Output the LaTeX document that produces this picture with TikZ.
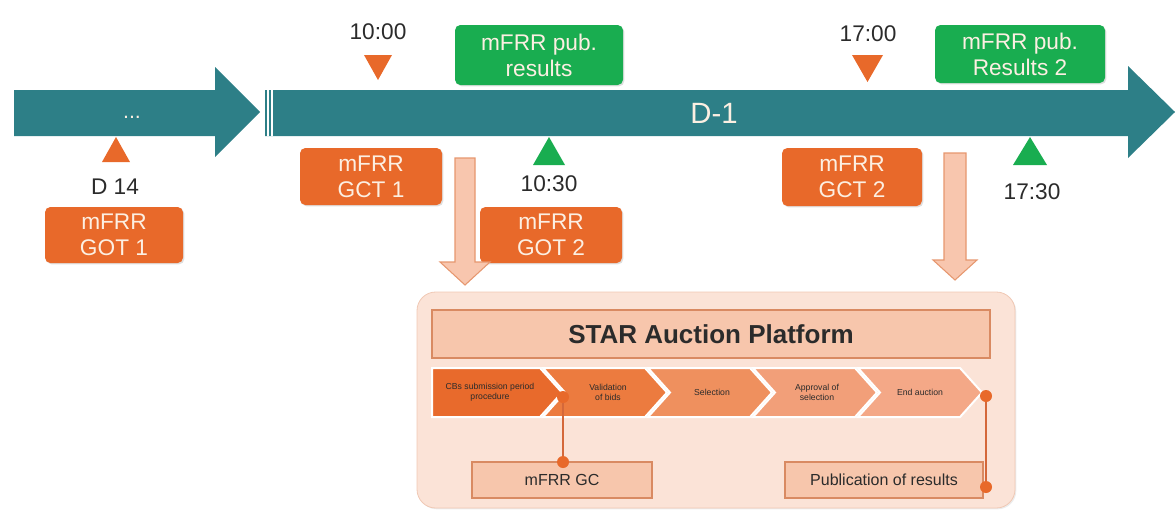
\documentclass[tikz,border=0pt]{standalone}
\usepackage{fontspec}
\setmainfont{Liberation Sans}
\usetikzlibrary{shadows}
\definecolor{tealA}{HTML}{2D7F87}
\definecolor{orangeA}{HTML}{E8692A}
\definecolor{greenA}{HTML}{19AD50}
\definecolor{boxtext}{HTML}{FCEFE2}
\definecolor{darkA}{HTML}{2B2B2B}
\definecolor{panelA}{HTML}{FBE3D7}
\definecolor{panelB}{HTML}{F0C8B4}
\definecolor{barA}{HTML}{F7C6AC}
\definecolor{barB}{HTML}{D98A62}
\definecolor{downA}{HTML}{F8C6AE}
\definecolor{downB}{HTML}{E6976F}
\definecolor{chA}{HTML}{E86A2C}
\definecolor{chB}{HTML}{EC7B3F}
\definecolor{chC}{HTML}{EF905E}
\definecolor{chD}{HTML}{F29F79}
\definecolor{chE}{HTML}{F4A887}
\definecolor{lineA}{HTML}{D4683A}
\newcommand\pxu{0.75pt}
\tikzset{
  tagbox/.style={rounded corners=4pt, text=boxtext, align=center,
    font=\fontsize{17}{19.5}\selectfont, inner sep=0pt,
    drop shadow={opacity=0.25, shadow xshift=1pt, shadow yshift=-1pt}},
  orangebox/.style={tagbox, fill=orangeA},
  greenbox/.style={tagbox, fill=greenA},
  timelabel/.style={text=darkA, font=\fontsize{17}{19}\selectfont, inner sep=0pt},
  lightbox/.style={fill=barA, draw=barB, line width=1pt, inner sep=0pt,
    drop shadow={opacity=0.2, shadow xshift=1pt, shadow yshift=-1pt}},
  chevtext/.style={text=darkA, font=\fontsize{6.5}{7.5}\selectfont, align=center, inner sep=0pt},
  chev/.style={draw=white, line width=1.5pt},
  dot/.style={circle, fill=orangeA, minimum size=9pt, inner sep=0pt},
  link/.style={draw=lineA, line width=1.5pt},
  downarrow/.style={fill=downA, draw=downB, line width=0.8pt}
}
\begin{document}
\begin{tikzpicture}[x=0.75pt,y=-0.75pt]
\useasboundingbox (0,0) rectangle (1176,511);
% timeline arrows
\fill[tealA] (14,90) -- (215,90) -- (215,67) -- (260,112) -- (215,157) -- (215,136) -- (14,136) -- cycle;
\fill[tealA] (265,90) -- (1128,90) -- (1128,66) -- (1175,112) -- (1128,158) -- (1128,136) -- (265,136) -- cycle;
\draw[white, line width=0.8pt] (268,90) -- (268,136) (272,90) -- (272,136);
\node[text=boxtext, font=\fontsize{16}{18}\selectfont] (dots) at (132,117) {...};
\node[text=boxtext, font=\fontsize{22}{24}\selectfont] (d1) at (714,113) {D-1};

% triangles
\fill[orangeA] (102,162) -- (130,162) -- (116,137) -- cycle;
\fill[orangeA] (364,55) -- (392,55) -- (378,80) -- cycle;
\fill[orangeA] (852,55) -- (883,55) -- (867.5,82) -- cycle;
\fill[greenA] (533,165) -- (565,165) -- (549,137) -- cycle;
\fill[greenA] (1013,165) -- (1047,165) -- (1030,137) -- cycle;

% time labels
\node[timelabel] (t14) at (115,187) {D 14};
\node[timelabel] (t1000) at (378,32) {10:00};
\node[timelabel] (t1030) at (549,184) {10:30};
\node[timelabel] (t1700) at (868,34) {17:00};
\node[timelabel] (t1730) at (1032,192) {17:30};

% boxes
\node[orangebox, minimum width=138*\pxu, minimum height=56*\pxu] (got1) at (114,235) {mFRR\\GOT 1};
\node[orangebox, minimum width=142*\pxu, minimum height=57*\pxu] (gct1) at (371,176.5) {mFRR\\GCT 1};
\node[orangebox, minimum width=142*\pxu, minimum height=56*\pxu] (got2) at (551,235) {mFRR\\GOT 2};
\node[orangebox, minimum width=140*\pxu, minimum height=58*\pxu] (gct2) at (852,177) {mFRR\\GCT 2};
\node[greenbox, minimum width=168*\pxu, minimum height=60*\pxu] (pub1) at (539,55) {mFRR pub.\\results};
\node[greenbox, minimum width=170*\pxu, minimum height=58*\pxu] (pub2) at (1020,54) {mFRR pub.\\Results 2};

% down arrows
\path[downarrow] (455,158) -- (475,158) -- (475,262) -- (490,262) -- (465,285) -- (440,262) -- (455,262) -- cycle;
\path[downarrow] (944,153) -- (966,153) -- (966,260) -- (977,260) -- (955,280) -- (933,260) -- (944,260) -- cycle;

% panel
\path[fill=panelA, draw=panelB, line width=0.6pt, rounded corners=14pt, drop shadow={opacity=0.15, shadow xshift=1pt, shadow yshift=-1pt}] (417,292) rectangle (1015,508);
\node[lightbox, minimum width=558*\pxu, minimum height=48*\pxu, font=\fontsize{19.5}{22}\selectfont\bfseries, text=darkA] (star) at (711,334) {STAR Auction Platform};

% chevrons
\path[chev, fill=chA] (432,368) -- (540,368) -- (562,392.5) -- (540,417) -- (432,417) -- cycle;
\path[chev, fill=chB] (543,368) -- (645,368) -- (667,392.5) -- (645,417) -- (543,417) -- (565,392.5) -- cycle;
\path[chev, fill=chC] (648,368) -- (750,368) -- (772,392.5) -- (750,417) -- (648,417) -- (670,392.5) -- cycle;
\path[chev, fill=chD] (753,368) -- (855,368) -- (877,392.5) -- (855,417) -- (753,417) -- (775,392.5) -- cycle;
\path[chev, fill=chE] (858,368) -- (960,368) -- (982,392.5) -- (960,417) -- (858,417) -- (880,392.5) -- cycle;
\node[chevtext] (c1) at (490,392) {CBs submission period\\procedure};
\node[chevtext] (c2) at (608,392) {Validation\\of bids};
\node[chevtext] (c3) at (712,392) {Selection};
\node[chevtext] (c4) at (817,392) {Approval of\\selection};
\node[chevtext] (c5) at (920,392) {End auction};

% lower boxes
\node[lightbox, minimum width=180*\pxu, minimum height=36*\pxu, font=\fontsize{12}{14}\selectfont, text=darkA] (gc) at (562,480) {mFRR GC};
\node[lightbox, minimum width=198*\pxu, minimum height=36*\pxu, font=\fontsize{12}{14}\selectfont, text=darkA] (pubres) at (884,480) {Publication of results};

% connectors
\coordinate (a1) at (563,397);
\coordinate (a2) at (563,462);
\coordinate (b1) at (986,396);
\coordinate (b2) at (986,487);
\draw[link] (a1) -- (a2);
\draw[link] (b1) -- (b2);
\node[dot] (da1) at (a1) {};
\node[dot] (da2) at (a2) {};
\node[dot] (db1) at (b1) {};
\node[dot] (db2) at (b2) {};
\end{tikzpicture}
\end{document}
